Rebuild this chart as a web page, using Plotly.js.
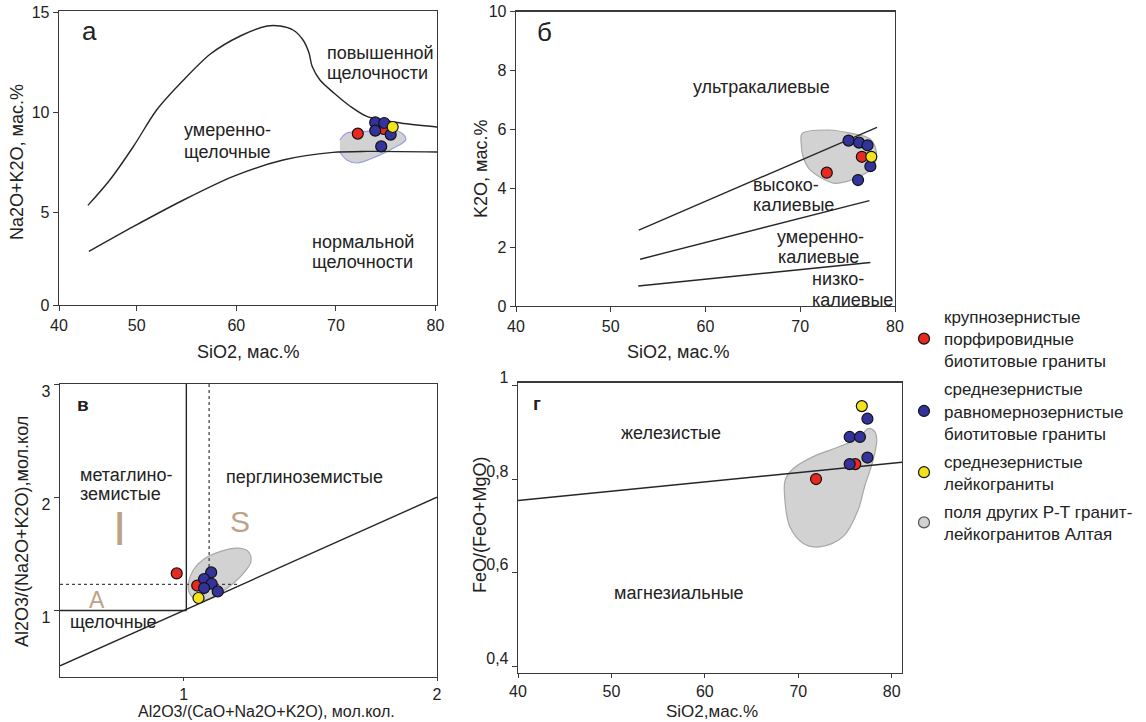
<!DOCTYPE html>
<html>
<head>
<meta charset="utf-8">
<script src="https://cdn.plot.ly/plotly-3.0.1.min.js"></script>
<style>html,body{margin:0;padding:0;background:#fff}#chart{width:1146px;height:722px}</style>
</head>
<body>
<div id="chart"></div>
<script>
// ---------- Panel а: TAS (SiO2 vs Na2O+K2O) ----------
const aUpperX = [45.1, 47.3, 49.7, 52.0, 54.7, 57.4, 60.4, 63.1, 64.4, 65.7, 66.7, 67.3, 67.6, 68.4, 69.8, 71.4, 73.1, 76.5, 80.2];
const aUpperY = [5.33, 6.6, 8.3, 10.1, 11.6, 12.9, 13.8, 14.3, 14.3, 14.1, 13.6, 12.95, 12.3, 11.6, 10.95, 10.3, 9.78, 9.45, 9.25];
const aLowerX = [45.2, 49.7, 54.7, 59.7, 64.7, 69.7, 73.1, 80.2];
const aLowerY = [3.03, 4.28, 5.6, 6.78, 7.6, 7.98, 8.03, 8.0];
const aFieldX = [70.4, 71.1, 73.1, 75.8, 76.8, 77.0, 75.8, 74.1, 72.1, 71.1, 70.4];
const aFieldY = [8.6, 8.95, 9.03, 9.1, 8.87, 8.6, 8.2, 7.78, 7.45, 7.6, 8.0];
const aRedX = [72.2, 74.8];           const aRedY = [8.92, 9.15];
const aBlueX = [73.95, 74.85, 73.95, 75.5, 74.55]; const aBlueY = [9.48, 9.45, 9.07, 8.87, 8.28];
const aYellowX = [75.7];              const aYellowY = [9.25];
const aXTickVals = [42.2, 50, 60, 70, 80]; const aXTickText = ['40', '50', '60', '70', '80'];
const aYTickVals = [0.35, 5, 10, 15];      const aYTickText = ['0', '5', '10', '15'];

// ---------- Panel б: SiO2 vs K2O ----------
const bLine1X = [52.96, 78.1]; const bLine1Y = [2.58, 6.07];
const bLine2X = [53.1, 77.3];  const bLine2Y = [1.59, 3.58];
const bLine3X = [52.9, 77.4];  const bLine3Y = [0.68, 1.48];
const bFieldX = [70.2, 73.0, 75.5, 77.3, 77.9, 78.0, 77.6, 76.2, 74.8, 73.6, 72.3, 70.9, 70.3, 70.1, 70.2];
const bFieldY = [5.86, 5.98, 5.86, 5.69, 5.41, 4.96, 4.68, 4.39, 4.22, 4.17, 4.34, 4.68, 5.07, 5.52, 5.86];
const bRedX = [76.5, 72.8];  const bRedY = [5.07, 4.53];
const bBlueX = [75.1, 76.2, 77.1, 77.4, 76.1]; const bBlueY = [5.62, 5.55, 5.46, 4.75, 4.28];
const bYellowX = [77.5];     const bYellowY = [5.07];
const bXTickVals = [40, 50, 60, 70, 80];
const bYTickVals = [0, 2, 4, 6, 8, 10];

// ---------- Panel в: A/CNK vs A/NK ----------
const cDiagX = [0.511, 2.0];  const cDiagY = [0.511, 2.0];
const cVertX = [1.01, 1.01];  const cVertY = [1.0, 3.0];
const cHorX = [0.511, 1.01];  const cHorY = [1.0, 1.0];
const cDotHX = [0.511, 1.22]; const cDotHY = [1.23, 1.23];
const cDotVX = [1.1, 1.1];    const cDotVY = [3.0, 1.23];
const cFieldX = [1.018, 1.038, 1.077, 1.143, 1.216, 1.255, 1.265, 1.242, 1.196, 1.143, 1.09, 1.051, 1.022, 1.018];
const cFieldY = [1.24, 1.36, 1.45, 1.52, 1.55, 1.52, 1.43, 1.345, 1.24, 1.154, 1.095, 1.095, 1.154, 1.24];
const cRedX = [0.972, 1.053]; const cRedY = [1.327, 1.22];
const cBlueX = [1.108, 1.08, 1.11, 1.08, 1.134]; const cBlueY = [1.336, 1.278, 1.236, 1.198, 1.168];
const cYellowX = [1.058];     const cYellowY = [1.11];
const cXTickVals = [1, 2];
const cYTickVals = [1, 2, 3];

// ---------- Panel г: SiO2 vs FeO/(FeO+MgO) ----------
const dLineX = [40, 81.1]; const dLineY = [0.754, 0.836];
const dFieldX = [68.6, 69.5, 71.6, 74.5, 76.6, 77.5, 78.2, 78.4, 78.0, 77.1, 76.4, 74.8, 72.3, 70.5, 69.1, 68.6, 68.6];
const dFieldY = [0.798, 0.823, 0.848, 0.87, 0.89, 0.908, 0.901, 0.883, 0.84, 0.784, 0.734, 0.677, 0.655, 0.663, 0.698, 0.748, 0.798];
const dRedX = [76.1, 71.9];  const dRedY = [0.832, 0.80];
const dBlueX = [77.4, 75.5, 76.6, 77.4, 75.5]; const dBlueY = [0.929, 0.89, 0.89, 0.846, 0.832];
const dYellowX = [76.8];     const dYellowY = [0.956];
const dXTickVals = [40, 50, 60, 70, 80];
const dYTickVals = [0.4, 0.6, 0.8, 1.0]; const dYTickText = ['0,4', '0,6', '0,8', '1'];

// ---------- Legend ----------
const legendNames = [
  'крупнозернистые<br>порфировидные<br>биотитовые граниты',
  'среднезернистые<br>равномернозернистые<br>биотитовые граниты',
  'среднезернистые<br>лейкограниты',
  'поля других Р-Т гранит-<br>лейкогранитов Алтая'
];

// ---------- styles ----------
const W = 1146, H = 722;
const FONT = 'Liberation Sans, Arial, sans-serif';
const TXT = '#222';
const RED = '#e8291f', BLUE = '#34339c', YELLOW = '#f3e21c', GRAY = '#d2d2d2';
const lineStyle = {color: '#262626', width: 1.4};

function pts(x, y, xa, ya, color, name, show) {
  return {type: 'scatter', mode: 'markers', x: x, y: y, xaxis: xa, yaxis: ya,
    name: name, legendgroup: name, showlegend: !!show,
    marker: {size: 11, color: color, line: {color: '#111', width: 1.2}}, hoverinfo: 'x+y'};
}
function field(x, y, xa, ya, outline) {
  return {type: 'scatter', mode: 'lines', x: x, y: y, xaxis: xa, yaxis: ya, fill: 'toself',
    fillcolor: GRAY, line: {color: outline, width: 1.2, shape: 'spline', smoothing: 1},
    showlegend: false, hoverinfo: 'skip'};
}
function curve(x, y, xa, ya, extra) {
  return Object.assign({type: 'scatter', mode: 'lines', x: x, y: y, xaxis: xa, yaxis: ya,
    line: Object.assign({}, lineStyle), showlegend: false, hoverinfo: 'skip'}, extra || {});
}

const traces = [
  // а
  field(aFieldX, aFieldY, 'x', 'y', '#9c9ce6'),
  curve(aUpperX, aUpperY, 'x', 'y', {line: Object.assign({}, lineStyle, {shape: 'spline', smoothing: 0.8})}),
  curve(aLowerX, aLowerY, 'x', 'y', {line: Object.assign({}, lineStyle, {shape: 'spline', smoothing: 0.8})}),
  pts(aRedX, aRedY, 'x', 'y', RED, legendNames[0], true),
  pts(aBlueX, aBlueY, 'x', 'y', BLUE, legendNames[1], true),
  pts(aYellowX, aYellowY, 'x', 'y', YELLOW, legendNames[2], true),
  {type: 'scatter', mode: 'markers', x: [null], y: [null], xaxis: 'x', yaxis: 'y', name: legendNames[3],
    legendgroup: 'fields', marker: {size: 11, color: GRAY, line: {color: '#555', width: 1.2}}, showlegend: true},
  // б
  field(bFieldX, bFieldY, 'x2', 'y2', '#a8a8a8'),
  curve(bLine1X, bLine1Y, 'x2', 'y2'),
  curve(bLine2X, bLine2Y, 'x2', 'y2'),
  curve(bLine3X, bLine3Y, 'x2', 'y2'),
  pts(bRedX, bRedY, 'x2', 'y2', RED, legendNames[0]),
  pts(bBlueX, bBlueY, 'x2', 'y2', BLUE, legendNames[1]),
  pts(bYellowX, bYellowY, 'x2', 'y2', YELLOW, legendNames[2]),
  // в
  field(cFieldX, cFieldY, 'x3', 'y3', '#a8a8a8'),
  curve(cDiagX, cDiagY, 'x3', 'y3'),
  curve(cVertX, cVertY, 'x3', 'y3'),
  curve(cHorX, cHorY, 'x3', 'y3'),
  curve(cDotHX, cDotHY, 'x3', 'y3', {line: {color: '#444', width: 1.3, dash: 'dot'}}),
  curve(cDotVX, cDotVY, 'x3', 'y3', {line: {color: '#444', width: 1.3, dash: 'dot'}}),
  pts(cRedX, cRedY, 'x3', 'y3', RED, legendNames[0]),
  pts(cBlueX, cBlueY, 'x3', 'y3', BLUE, legendNames[1]),
  pts(cYellowX, cYellowY, 'x3', 'y3', YELLOW, legendNames[2]),
  // г
  field(dFieldX, dFieldY, 'x4', 'y4', '#a8a8a8'),
  curve(dLineX, dLineY, 'x4', 'y4'),
  pts(dRedX, dRedY, 'x4', 'y4', RED, legendNames[0]),
  pts(dBlueX, dBlueY, 'x4', 'y4', BLUE, legendNames[1]),
  pts(dYellowX, dYellowY, 'x4', 'y4', YELLOW, legendNames[2])
];

function axis(domain, range, tickvals, ticktext, anchor, extra) {
  const a = {domain: domain, range: range, tickvals: tickvals, anchor: anchor,
    showgrid: false, zeroline: false, showline: true, mirror: true,
    linecolor: '#3a3a3a', linewidth: 1.3, ticks: 'outside', ticklen: 5, tickcolor: '#3a3a3a',
    tickfont: {family: FONT, size: 16, color: TXT}, fixedrange: true};
  if (ticktext) a.ticktext = ticktext;
  return Object.assign(a, extra || {});
}
const fx = px => px / W, fy = py => 1 - py / H;

const annotations = [];
function txt(text, px, py, opts) {
  opts = opts || {};
  annotations.push({xref: 'paper', yref: 'paper', x: fx(px), y: fy(py), text: text, showarrow: false,
    xanchor: opts.xa || 'left', yanchor: 'middle', textangle: opts.angle || 0,
    font: {family: FONT, size: opts.size || 18, color: opts.color || TXT}});
}
// panel letters
txt('а', 80, 31, {size: 26});
txt('б', 535, 32, {size: 26});
txt('<b>в</b>', 75, 404, {size: 19});
txt('<b>г</b>', 531, 403, {size: 19});
// а
txt('повышенной', 325, 53); txt('щелочности', 325, 73);
txt('умеренно-', 182, 130); txt('щелочные', 182, 152);
txt('нормальной', 310, 242); txt('щелочности', 310, 262);
// б
txt('ультракалиевые', 691, 87);
txt('высоко-', 751, 185); txt('калиевые', 751, 205);
txt('умеренно-', 775, 237); txt('калиевые', 776, 257);
txt('низко-', 810, 279); txt('калиевые', 810, 300);
// в
txt('метаглино-', 78, 475); txt('земистые', 78, 494);
txt('перглиноземистые', 224, 477);
txt('щелочные', 68, 622);
txt('I', 119, 528, {xa: 'center', size: 48, color: '#bea288'});
txt('S', 240, 521, {xa: 'center', size: 30, color: '#bea288'});
txt('A', 97, 600, {xa: 'center', size: 23, color: '#bea288'});
// г
txt('железистые', 619, 433);
txt('магнезиальные', 612, 593);
// axis titles
txt('SiO2, мас.%', 248, 352, {xa: 'center'});
txt('Na2O+K2O, мас.%', 17, 162, {xa: 'center', angle: -90});
txt('SiO2, мас.%', 678, 352, {xa: 'center'});
txt('K2O, мас.%', 481, 169, {xa: 'center', angle: -90});
txt('Al2O3/(CaO+Na2O+K2O), мол.кол.', 266, 711.5, {xa: 'center', size: 16});
txt('Al2O3/(Na2O+K2O),мол.кол', 22, 532, {xa: 'center', angle: -90});
txt('SiO2,мас.%', 712, 711, {xa: 'center', size: 17});
txt('FeO/(FeO+MgO)', 480, 525, {xa: 'center', angle: -90});

const layout = {
  width: W, height: H, margin: {l: 0, r: 0, t: 0, b: 0},
  paper_bgcolor: '#fff', plot_bgcolor: '#fff',
  font: {family: FONT, color: TXT},
  showlegend: true,
  legend: {x: fx(904), y: fy(299), xanchor: 'left', yanchor: 'top',
    font: {family: FONT, size: 17, color: TXT}, bgcolor: 'rgba(0,0,0,0)', tracegroupgap: 3},
  xaxis: axis([fx(59), fx(437)], [42.2, 80.15], aXTickVals, aXTickText, 'y'),
  yaxis: axis([fy(305), fy(11)], [0.35, 15.05], aYTickVals, aYTickText, 'x'),
  xaxis2: axis([fx(516), fx(895)], [40, 80], bXTickVals, null, 'y2'),
  yaxis2: axis([fy(306), fy(11.7)], [0, 10], bYTickVals, null, 'x2'),
  xaxis3: axis([fx(60), fx(437)], [0.511, 2.0], cXTickVals, null, 'y3', {ticklen: 3}),
  yaxis3: axis([fy(676.7), fy(384)], [0.415, 3.0], cYTickVals, null, 'x3', {ticklabelshift: 7}),
  xaxis4: axis([fx(518), fx(902)], [40, 81.1], dXTickVals, null, 'y4', {ticklen: 4}),
  yaxis4: axis([fy(672.7), fy(382.7)], [0.386, 1.006], dYTickVals, dYTickText, 'x4', {ticklabelshift: -8}),
  annotations: annotations
};

Plotly.newPlot('chart', traces, layout, {displayModeBar: false, staticPlot: true});
</script>
</body>
</html>
